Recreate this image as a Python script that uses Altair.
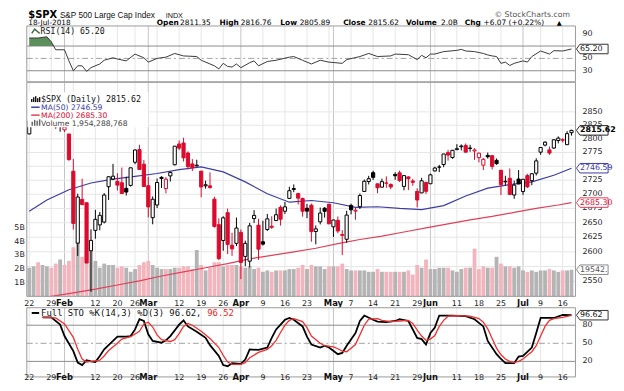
import altair as alt
import pandas as pd

# ---------------- data ----------------
opens = [2809.16, 2835.05, 2845.42, 2846.24, 2847.48, 2867.23, 2832.74, 2832.41, 2816.45, 2808.92,
         2741.06, 2614.78, 2690.95, 2685.01, 2601.78, 2636.75, 2646.27, 2651.21, 2713.46, 2727.14,
         2722.99, 2720.53, 2710.42, 2715.80, 2757.37, 2780.45, 2753.78, 2715.22, 2658.89, 2681.06,
         2730.18, 2710.18, 2732.75, 2752.91, 2790.54, 2792.31, 2774.06, 2754.27, 2750.57, 2741.38,
         2715.05, 2714.99, 2691.36, 2646.71, 2619.35, 2667.57, 2611.30, 2614.41, 2633.45, 2592.17,
         2584.04, 2657.36, 2645.82, 2617.18, 2638.41, 2643.89, 2653.83, 2676.90, 2670.10, 2692.74,
         2710.11, 2701.16, 2692.56, 2675.40, 2680.80, 2634.92, 2651.65, 2675.47, 2682.51, 2642.96,
         2654.24, 2628.08, 2621.45, 2680.34, 2670.26, 2678.12, 2705.02, 2722.70, 2738.47, 2718.59,
         2712.62, 2719.71, 2717.35, 2735.39, 2738.34, 2713.98, 2730.94, 2723.60, 2705.11, 2702.43,
         2720.98, 2718.70, 2741.67, 2748.46, 2753.25, 2774.84, 2765.84, 2780.18, 2785.60, 2787.94,
         2783.21, 2777.78, 2765.79, 2752.01, 2769.73, 2769.28, 2760.79, 2742.94, 2722.12, 2728.45,
         2698.69, 2727.13, 2704.95, 2733.27, 2724.19, 2737.68, 2775.62, 2788.56, 2779.82, 2783.14,
         2796.93, 2797.36, 2789.34, 2811.35]
highs = [2833.03, 2842.24, 2852.97, 2848.56, 2872.87, 2870.62, 2837.75, 2839.26, 2835.96, 2808.92,
         2763.39, 2701.04, 2727.67, 2685.27, 2638.67, 2672.61, 2668.84, 2702.10, 2731.51, 2754.42,
         2737.60, 2747.75, 2731.26, 2747.76, 2780.64, 2789.15, 2761.52, 2730.89, 2696.25, 2728.09,
         2732.08, 2730.60, 2740.45, 2786.57, 2796.98, 2801.90, 2777.11, 2763.03, 2761.85, 2741.38,
         2724.22, 2739.14, 2695.68, 2657.67, 2661.36, 2674.78, 2632.65, 2659.07, 2638.30, 2619.14,
         2649.86, 2672.08, 2656.88, 2653.55, 2665.45, 2661.43, 2674.72, 2680.26, 2686.49, 2713.34,
         2717.49, 2702.84, 2693.94, 2682.86, 2683.55, 2645.30, 2676.48, 2677.35, 2682.87, 2655.27,
         2660.87, 2637.14, 2670.93, 2683.35, 2676.34, 2701.27, 2726.11, 2732.86, 2742.10, 2718.59,
         2727.76, 2731.96, 2719.50, 2739.19, 2742.24, 2733.33, 2731.97, 2727.36, 2710.67, 2729.34,
         2722.50, 2736.93, 2749.16, 2752.61, 2772.39, 2779.90, 2779.39, 2790.21, 2789.80, 2791.47,
         2789.06, 2782.81, 2774.99, 2765.05, 2774.86, 2769.28, 2764.17, 2742.94, 2732.91, 2746.09,
         2724.34, 2743.26, 2727.26, 2736.58, 2737.83, 2764.41, 2784.65, 2795.58, 2785.91, 2799.22,
         2804.53, 2801.19, 2814.19, 2816.76]
lows = [2808.12, 2830.59, 2824.81, 2830.94, 2846.18, 2851.48, 2818.27, 2813.04, 2812.70, 2759.97,
        2638.17, 2593.07, 2681.33, 2580.56, 2532.69, 2622.45, 2637.08, 2648.87, 2689.82, 2725.11,
        2706.76, 2701.29, 2697.77, 2713.74, 2753.78, 2744.22, 2713.54, 2659.65, 2647.32, 2675.75,
        2711.26, 2701.74, 2722.65, 2751.54, 2779.26, 2758.68, 2744.38, 2741.47, 2749.97, 2694.59,
        2710.05, 2709.79, 2641.59, 2585.89, 2601.81, 2596.12, 2593.06, 2609.72, 2553.80, 2575.49,
        2573.61, 2649.58, 2586.27, 2610.79, 2635.78, 2639.25, 2653.83, 2645.05, 2665.16, 2692.05,
        2703.63, 2681.90, 2660.61, 2657.99, 2617.32, 2612.67, 2647.16, 2659.01, 2648.04, 2625.41,
        2631.70, 2594.62, 2615.32, 2664.70, 2655.20, 2674.14, 2704.54, 2717.45, 2725.47, 2701.91,
        2712.17, 2711.36, 2709.18, 2725.70, 2721.88, 2707.10, 2707.38, 2714.99, 2676.81, 2702.43,
        2700.68, 2718.70, 2740.54, 2739.51, 2748.46, 2760.16, 2763.59, 2780.17, 2778.78, 2774.65,
        2776.52, 2761.73, 2757.12, 2743.19, 2763.91, 2744.39, 2752.68, 2698.67, 2715.60, 2699.38,
        2691.99, 2718.03, 2698.95, 2711.16, 2716.02, 2733.52, 2770.73, 2786.24, 2770.77, 2781.53,
        2791.69, 2793.39, 2789.24, 2805.89]
closes = [2832.97, 2839.13, 2837.54, 2839.25, 2872.87, 2853.53, 2822.43, 2823.81, 2821.98, 2762.13,
          2648.94, 2695.14, 2681.66, 2581.00, 2619.55, 2656.00, 2662.94, 2698.63, 2731.20, 2732.22,
          2716.26, 2701.33, 2703.96, 2747.30, 2779.60, 2744.28, 2713.83, 2677.67, 2691.25, 2720.94,
          2728.12, 2726.80, 2738.97, 2786.57, 2783.02, 2765.31, 2749.48, 2747.33, 2752.01, 2712.92,
          2716.94, 2711.93, 2643.69, 2588.26, 2658.55, 2612.62, 2605.00, 2640.87, 2581.88, 2614.45,
          2644.69, 2662.84, 2604.47, 2613.16, 2656.87, 2642.19, 2663.99, 2656.30, 2677.84, 2706.39,
          2708.64, 2693.13, 2670.14, 2670.29, 2634.56, 2639.40, 2666.94, 2669.91, 2648.05, 2654.80,
          2635.67, 2629.73, 2663.42, 2672.63, 2671.92, 2697.79, 2723.07, 2727.72, 2730.13, 2711.45,
          2722.46, 2720.13, 2712.97, 2733.01, 2724.44, 2733.29, 2727.76, 2721.33, 2689.86, 2724.01,
          2705.27, 2734.62, 2746.87, 2748.80, 2772.35, 2770.37, 2779.03, 2782.00, 2786.85, 2775.63,
          2782.49, 2779.66, 2773.75, 2762.59, 2767.32, 2749.76, 2754.88, 2717.07, 2723.06, 2699.63,
          2716.31, 2718.37, 2726.71, 2713.22, 2736.61, 2759.82, 2784.17, 2793.84, 2774.02, 2798.29,
          2801.31, 2798.43, 2809.55, 2815.62]
volumes = [2.1, 2.2, 2.5, 2.3, 2.2, 2.1, 2.4, 2.7, 2.3, 2.6,
           3.6, 4.0, 2.9, 3.2, 3.6, 2.6, 2.1, 2.4, 2.3, 2.3,
           2.1, 2.2, 2.1, 1.8, 2.0, 2.3, 2.5, 2.6, 2.3, 2.1,
           2.0, 2.0, 2.0, 2.1, 2.1, 2.2, 2.2, 2.0, 3.4, 2.3,
           1.9, 2.1, 2.5, 2.5, 2.2, 2.3, 2.3, 2.3, 2.2, 2.1,
           2.2, 2.0, 2.1, 1.8, 1.9, 1.8, 1.9, 1.9, 1.9, 2.0,
           2.0, 2.1, 2.3, 2.0, 2.3, 2.2, 2.2, 2.0, 2.2, 2.2,
           2.2, 2.4, 2.0, 1.9, 1.9, 1.9, 1.9, 1.8, 1.8, 2.0,
           1.8, 1.8, 1.8, 1.8, 1.8, 1.8, 1.9, 1.6, 2.3, 2.1,
           2.7, 2.0, 2.0, 2.1, 2.1, 2.1, 1.9, 1.8, 2.0, 2.1,
           2.1, 3.5, 2.0, 2.2, 2.1, 2.1, 2.9, 2.4, 2.2, 2.2,
           2.1, 2.2, 1.9, 1.8, 1.9, 1.8, 1.9, 1.9, 2.0, 1.9,
           1.8, 1.9, 1.9, 1.95]
first_prev_close = 2810.30

ma50_i = [0, 4, 9, 14, 19, 24, 29, 34, 39, 44, 49, 54, 59, 64, 69, 74, 79, 84, 89, 94, 99, 104, 109, 114, 119, 123]
ma50_v = [2670, 2690, 2708, 2720, 2727, 2732, 2737, 2744, 2749, 2740, 2722, 2701, 2686, 2689, 2685, 2677,
          2678, 2675, 2673, 2680, 2697, 2711, 2717, 2722, 2734, 2746.59]
ma200_i = [0, 5, 10, 15, 20, 25, 30, 35, 40, 45, 50, 55, 60, 65, 70, 75, 80, 85, 90, 95, 100, 105, 110, 115, 120, 123]
ma200_v = [2518, 2525, 2531, 2537, 2544, 2551, 2559, 2566, 2573, 2580, 2588, 2594, 2600, 2606, 2614, 2621,
           2627, 2634, 2641, 2648, 2655, 2661, 2668, 2675, 2681, 2685.30]

rsi_i = [0, 2, 4, 5, 6, 8, 9, 10, 11, 12, 13, 14, 16, 17, 19, 20, 22, 24, 26, 27, 29, 31, 33, 35, 38,
         39, 42, 43, 44, 45, 46, 47, 48, 50, 51, 52, 54, 56, 59, 60, 62, 64, 66, 68, 71, 72, 75, 77, 79,
         82, 83, 86, 88, 89, 90, 91, 92, 94, 97, 98, 99, 101, 103, 104, 105, 106, 107, 108, 109, 110,
         111, 112, 113, 114, 116, 118, 119, 121, 123]
rsi_v = [83, 83, 85, 77, 64, 64, 46, 30, 38, 38, 29, 35, 41, 47, 51, 49, 46, 57, 51, 44, 50, 52, 58, 54, 53,
         47, 38, 33, 42, 37, 36, 41, 35, 43, 46, 38, 45, 47, 52, 53, 47, 41, 47, 44, 42, 48, 53, 58, 53,
         54, 57, 56, 48, 55, 51, 57, 57, 61, 63, 64.6, 62, 61, 58, 55.6, 54, 53, 42, 44, 38.5, 42,
         44, 46, 44, 53, 62, 57, 62.5, 62, 65.2]
rsi_hi_i = [0, 2, 4, 5, 5.55]
rsi_hi_v = [83, 83, 85, 77, 70]

stok_i = [3, 5, 7, 8, 10, 11, 12, 13, 14, 15, 16, 17, 19, 20, 22, 23, 24, 25, 26, 27, 28, 30, 31, 32, 34,
          35, 36, 38, 40, 41, 43, 44, 45, 46, 48, 49, 50, 52, 54, 55, 56, 58, 59, 60, 62, 63, 64, 66, 67,
          68, 70, 71, 72, 74, 75, 76, 78, 79, 81, 83, 84, 86, 88, 89, 90, 91, 92, 93, 94, 96, 99, 101,
          103, 104, 106, 107, 108, 110, 111, 112, 114, 115, 116, 119, 121, 123]
stok_v = [93, 93, 81, 62, 37, 18, 14, 22, 20, 19, 29, 40, 54, 61, 61, 62, 73, 90, 87, 65, 54, 51, 55, 62, 81,
          88, 78, 69, 59, 47, 29, 14, 12, 17, 16, 23, 40, 39, 43, 59, 73, 89, 92, 89, 78, 61, 48, 43, 46,
          43, 32, 34, 46, 67, 87, 96, 89, 86, 85, 87, 90, 87, 59, 57, 48, 67, 76, 96, 96, 96, 95, 90,
          78, 54, 32, 24, 17, 17, 28, 29, 43, 67, 92, 92, 97, 96.62]
stod_i = [3, 6, 8, 10, 11, 12, 13, 14, 15, 16, 17, 18, 20, 21, 23, 25, 26, 27, 28, 29, 30, 32, 33, 34, 35,
          36, 37, 39, 41, 43, 44, 45, 46, 48, 49, 50, 52, 54, 55, 56, 57, 58, 59, 60, 62, 63, 64, 66, 67,
          69, 70, 71, 72, 74, 75, 76, 77, 79, 80, 82, 84, 86, 87, 88, 89, 90, 91, 92, 93, 94, 95, 97,
          100, 102, 103, 104, 105, 106, 107, 108, 109, 110, 111, 112, 113, 114, 115, 116, 117, 118, 119,
          121, 123]
stod_v = [93, 92, 82, 60, 40, 24, 19, 20, 21, 22, 29, 38, 50, 57, 61, 70, 82, 85, 77, 64, 56, 53, 56, 66, 78,
          83, 80, 70, 58, 43, 30, 19, 15, 15, 18, 26, 35, 40, 46, 55, 68, 80, 88, 91, 86, 76, 62, 50, 46,
          44, 41, 37, 36, 48, 64, 80, 90, 91, 88, 86, 87, 88, 83, 72, 62, 55, 57, 63, 78, 88, 95, 96,
          95, 91, 85, 74, 58, 42, 31, 24, 20, 18, 20, 24, 30, 36, 46, 62, 78, 88, 91,
          93, 96.52]

grid_i = [0, 5, 8, 10, 15, 20, 24, 27, 29, 34, 39, 44, 48, 53, 58, 63, 68, 69, 73, 78, 83, 88, 91, 92,
          97, 102, 107, 112, 116, 121]
month_i = [8, 27, 48, 69, 91, 112]
label_i = [0, 5, 8, 15, 20, 24, 27, 34, 39, 44, 48, 53, 58, 63, 69, 73, 78, 83, 88, 91, 97, 102, 107, 112, 116, 121]
label_t = ['22', '29', 'Feb', '12', '20', '26', 'Mar', '12', '19', '26', 'Apr', '9', '16', '23', 'May', '7',
           '14', '21', '29', 'Jun', '11', '18', '25', 'Jul', '9', '16']

price_grid = [2550, 2575, 2600, 2625, 2650, 2675, 2700, 2725, 2750, 2775, 2800, 2825, 2850]
price_labels = [2550, 2600, 2625, 2650, 2675, 2700, 2725, 2775, 2800, 2825, 2850]
vol_labels = [1, 2, 3, 4, 5]
rsi_labels = [90, 50, 30]
sto_labels = [80, 50, 20]

# ---------------- geometry / style ----------------
W = 555.0
H_RSI = 56.5
H_PRICE = 216.5
GAP = 11.0
H_STO = GAP + 70.0
X_DOM = [-0.56, 123.9]
FONT = 'DejaVu Sans'
MONO = 'DejaVu Sans Mono'
RED = '#dc0a2d'
BLUE = '#3c3ca8'
MA200C = '#e0405a'
VOL_UP = '#b4b4b4'
VOL_DN = '#f2b4bd'
GRID_W = '#e6e6e6'
GRID_M = '#c4c4c4'
LEVEL = '#8c8c8c'
TAGX = 572.0
TAGSIZE = 1024
TAGTEXT = TAGX - 12.5
TAGPATH = 'M-1,0L-0.78,-0.3L1,-0.3L1,0.3L-0.78,0.3Z'
LABX = W + 7

xsc = alt.Scale(domain=X_DOM, nice=False, zero=False)
psc = alt.Scale(type='log', domain=[2525.1, 2905.8], nice=False, zero=False)
vsc = alt.Scale(domain=[0, 15.69], nice=False, zero=False)
rsc = alt.Scale(domain=[12.1, 102.5], nice=False, zero=False)
ssc = alt.Scale(domain=[-5.74, 127.05], nice=False, zero=False)

ONE = pd.DataFrame({'z': [0]})


def X(f):
    return alt.X(f, type='quantitative', scale=xsc, axis=None)


def T(x, y, s, size=8, weight='normal', color='#000', font=FONT, align='left', baseline='alphabetic'):
    return alt.Chart(ONE).mark_text(text=s, fontSize=size, fontWeight=weight, color=color, font=font,
                                    align=align, baseline=baseline).encode(x=alt.value(x), y=alt.value(y))


def hrule(x1, x2, y, color, width=1.5):
    return alt.Chart(ONE).mark_rule(color=color, strokeWidth=width).encode(
        x=alt.value(x1), x2=alt.value(x2), y=alt.value(y))


def border(y1, y2):
    return alt.Chart(ONE).mark_rect(fillOpacity=0, stroke='#9a9a9a', strokeWidth=1).encode(
        x=alt.value(0), x2=alt.value(W), y=alt.value(y1), y2=alt.value(y2))


def vgrid(y1, y2):
    g = pd.DataFrame({'i': grid_i, 'm': [i in month_i for i in grid_i]})
    return alt.Chart(g).mark_rule(strokeWidth=1).encode(
        x=X('i'), y=alt.value(y1), y2=alt.value(y2),
        color=alt.condition('datum.m', alt.value(GRID_M), alt.value(GRID_W)))


def levels(vals, scale, color, dash=None, width=1):
    kw = dict(color=color, strokeWidth=width)
    if dash:
        kw['strokeDash'] = dash
    return alt.Chart(pd.DataFrame({'lv': vals})).mark_rule(**kw).encode(
        y=alt.Y('lv:Q', scale=scale, axis=None), x=alt.value(0), x2=alt.value(W))


def ylabels(vals, scale, x, align='left', fmt=None):
    txt = [(fmt(v) if fmt else str(v)) for v in vals]
    return alt.Chart(pd.DataFrame({'lv': vals, 't': txt})).mark_text(
        fontSize=8, font=FONT, color='#222', align=align, baseline='middle').encode(
        y=alt.Y('lv:Q', scale=scale, axis=None), x=alt.value(x), text='t:N')


def tag(value, scale, text, color, tcolor, weight='normal', limit=0):
    d = pd.DataFrame({'y': [value]})
    box = alt.Chart(d).mark_point(shape=TAGPATH, size=TAGSIZE, filled=True, fill='white', stroke=color,
                                  strokeWidth=1, opacity=1).encode(
        x=alt.value(TAGX), y=alt.Y('y:Q', scale=scale, axis=None))
    kw = dict(text=text, fontSize=8, font=FONT, color=tcolor, align='left', baseline='middle',
              fontWeight=weight)
    if limit:
        kw['limit'] = limit
        kw['ellipsis'] = '.'
    lab = alt.Chart(d).mark_text(**kw).encode(x=alt.value(TAGTEXT), y=alt.Y('y:Q', scale=scale, axis=None))
    return box + lab


def date_labels(y):
    d = pd.DataFrame({'i': label_i, 't': label_t, 'b': [i in month_i for i in label_i]})
    base = alt.Chart(d)
    norm = base.transform_filter('!datum.b').mark_text(fontSize=8, font=FONT, color='#222',
                                                        baseline='alphabetic').encode(
        x=X('i'), y=alt.value(y), text='t:N')
    bold = base.transform_filter('datum.b').mark_text(fontSize=8.5, font=FONT, fontWeight='bold',
                                                       color='#111', baseline='alphabetic').encode(
        x=X('i'), y=alt.value(y), text='t:N')
    return norm + bold


# ---------------- candle table ----------------
n = len(closes)
prev = [first_prev_close] + closes[:-1]
rows = []
for i in range(n):
    up = closes[i] >= prev[i]
    col = '#000000' if up else RED
    rows.append(dict(i=i, o=opens[i], h=highs[i], l=lows[i], c=closes[i], v=volumes[i],
                     col=col, fill=('#ffffff' if closes[i] > opens[i] else col),
                     vcol=(VOL_UP if up else VOL_DN),
                     x1=i - 0.36, x2=i + 0.36, b1=i - 0.43, b2=i + 0.43))
df = pd.DataFrame(rows)

# ---------------- RSI panel ----------------
rsi_df = pd.DataFrame({'i': rsi_i, 'v': rsi_v})
rsi_hi = pd.DataFrame({'i': rsi_hi_i, 'v': rsi_hi_v})

rsi_layers = [
    vgrid(0, H_RSI),
    levels([70, 30], rsc, LEVEL),
    levels([50], rsc, '#a0a0a0', dash=[6, 3, 2, 3]),
    alt.Chart(rsi_hi).mark_area(color='#5c8f5c', opacity=1).encode(
        x=X('i'), y=alt.Y('v:Q', scale=rsc, axis=None), y2=alt.datum(70)),
    alt.Chart(rsi_df).mark_line(color='#3a3a3a', strokeWidth=1).encode(
        x=X('i'), y=alt.Y('v:Q', scale=rsc, axis=None)),
    border(0, H_RSI),
    ylabels(rsi_labels, rsc, LABX),
    tag(65.20, rsc, '65.20', '#333', '#111'),
    # legend
    alt.Chart(pd.DataFrame({'x': [5, 8, 10.5, 13], 'y': [7.5, 3.2, 5.4, 7.5]})).mark_line(
        color='#3d6e3d', strokeWidth=1.5).encode(x=alt.X('x:Q', scale=None), y=alt.Y('y:Q', scale=None)),
    T(14, 7.8, 'RSI(14) 65.20', size=8.3, font=MONO, color='#111'),
    # header (two lines above the panels)
    T(1.5, -8.0, '$SPX', size=10, weight='bold'),
    T(33.5, -8.2, 'S&P 500 Large Cap Index', size=8.3, font='Liberation Sans', color='#111'),
    T(140.5, -8.2, 'INDX', size=7.3, font='Liberation Sans', color='#111'),
    T(549.5, -8.6, '\u00a9 StockCharts.com', size=7.8, color='#555', align='right'),
    T(1.5, -0.8, '18-Jul-2018', size=7.4),
    T(131.5, -0.8, 'Open', size=7.5, weight='bold'), T(155, -0.8, '2811.35', size=7.5),
    T(195, -0.8, 'High', size=7.5, weight='bold'), T(216.5, -0.8, '2816.76', size=7.5),
    T(256.5, -0.8, 'Low', size=7.5, weight='bold'), T(276, -0.8, '2805.89', size=7.5),
    T(320, -0.8, 'Close', size=7.5, weight='bold'), T(345.5, -0.8, '2815.62', size=7.5),
    T(383.5, -0.8, 'Volume', size=7.5, weight='bold'), T(419, -0.8, '2.0B', size=7.5),
    T(443, -0.8, 'Chg', size=7.5, weight='bold'), T(462, -0.8, '+6.07 (+0.22%)', size=7.5),
    T(536, -0.8, '\u25b2', size=6.5),
    # invisible anchor fixing the top-left corner of the page
    alt.Chart(ONE).mark_rule(opacity=0).encode(x=alt.value(-18.5), x2=alt.value(-18.5),
                                               y=alt.value(-16), y2=alt.value(-12)),
]
rsi_chart = alt.layer(*rsi_layers).properties(width=W, height=H_RSI)

# ---------------- price panel ----------------
vol_layer = alt.layer(
    alt.Chart(df).mark_rect().encode(
        x=X('b1'), x2='b2', y=alt.Y('v:Q', scale=vsc, axis=None),
        y2=alt.value(H_PRICE), color=alt.Color('vcol:N', scale=None)),
    ylabels(vol_labels, vsc, -2, align='right', fmt=lambda v: '%dB' % v),
    tag(1.954288768, vsc, '1954288768', '#888', '#555', limit=30),
)

pd_ma50 = pd.DataFrame({'i': ma50_i, 'p': ma50_v})
pd_ma200 = pd.DataFrame({'i': ma200_i, 'p': ma200_v})

price_layer = alt.layer(
    alt.Chart(pd_ma200).mark_line(color=MA200C, strokeWidth=1.2, clip=True).encode(
        x=X('i'), y=alt.Y('p:Q', scale=psc, axis=None)),
    alt.Chart(pd_ma50).mark_line(color=BLUE, strokeWidth=1.2, clip=True).encode(
        x=X('i'), y=alt.Y('p:Q', scale=psc, axis=None)),
    alt.Chart(df).mark_rule(strokeWidth=1).encode(
        x=X('i'), y=alt.Y('l:Q', scale=psc, axis=None), y2='h:Q', color=alt.Color('col:N', scale=None)),
    alt.Chart(df).mark_rect(strokeWidth=1).encode(
        x=X('x1'), x2='x2', y=alt.Y('o:Q', scale=psc, axis=None), y2='c:Q',
        fill=alt.Fill('fill:N', scale=None), stroke=alt.Stroke('col:N', scale=None)),
    ylabels(price_labels, psc, LABX),
    # legend box
    alt.Chart(ONE).mark_rect(color='white').encode(x=alt.value(0.5), x2=alt.value(123),
                                                   y=alt.value(10), y2=alt.value(45.5)),
    alt.Chart(pd.DataFrame({'x': [5, 7, 9, 11, 13], 'y1': [17, 15, 14, 16, 15], 'y2': [20, 20, 20, 20, 20]})).mark_rule(
        color='#111', strokeWidth=1.4).encode(x=alt.X('x:Q', scale=None), y=alt.Y('y1:Q', scale=None),
                                              y2=alt.Y2('y2:Q')),
    T(14.5, 19.6, '$SPX (Daily) 2815.62', size=8.4, font=MONO, color='#111'),
    hrule(4.5, 13, 25.2, BLUE), T(14.5, 28.2, 'MA(50) 2746.59', size=7.7, font=FONT, color=BLUE),
    hrule(4.5, 13, 33.2, MA200C), T(14.5, 36.2, 'MA(200) 2685.30', size=7.7, font=FONT, color=RED),
    alt.Chart(pd.DataFrame({'x': [5.5, 8, 10.5, 13], 'y1': [40, 38, 39, 37.5], 'y2': [44, 44, 44, 44]})).mark_rule(
        color='#666', strokeWidth=1.5).encode(x=alt.X('x:Q', scale=None), y=alt.Y('y1:Q', scale=None),
                                              y2=alt.Y2('y2:Q')),
    T(14.5, 44.2, 'Volume 1,954,288,768', size=7.7, font=FONT, color='#444'),
    tag(2815.62, psc, '2815.62', '#222', '#000', weight='bold'),
    tag(2746.59, psc, '2746.59', BLUE, BLUE),
    tag(2685.30, psc, '2685.30', MA200C, RED),
)

price_chart = alt.layer(
    vgrid(0, H_PRICE),
    levels(price_grid, psc, GRID_W),
    vol_layer,
    price_layer,
).resolve_scale(y='independent').properties(width=W, height=H_PRICE)
price_chart = alt.layer(price_chart, border(0, H_PRICE)).properties(width=W, height=H_PRICE)

# ---------------- STO panel ----------------
k_df = pd.DataFrame({'i': stok_i, 'v': stok_v})
d_df = pd.DataFrame({'i': stod_i, 'v': stod_v})
sto_layers = [
    date_labels(8.8),
    vgrid(GAP, H_STO),
    levels([80, 20], ssc, LEVEL),
    levels([50], ssc, '#a0a0a0', dash=[6, 3, 2, 3]),
    alt.Chart(k_df).mark_line(color='#000', strokeWidth=1.8).encode(
        x=X('i'), y=alt.Y('v:Q', scale=ssc, axis=None)),
    alt.Chart(d_df).mark_line(color='#f03030', strokeWidth=1.3).encode(
        x=X('i'), y=alt.Y('v:Q', scale=ssc, axis=None)),
    border(GAP, H_STO),
    ylabels(sto_labels, ssc, LABX),
    tag(96.62, ssc, '96.62', '#333', '#111'),
    hrule(5, 12.5, 16.3, '#000', 2),
    T(14.5, 19.3, 'Full STO %K(14,3) %D(3) 96.62,', size=9, font=MONO, color='#111'),
    T(182.5, 19.3, '96.52', size=9, font=MONO, color='#f02020'),
    date_labels(H_STO + 3.3),
]
sto_chart = alt.layer(*sto_layers).properties(width=W, height=H_STO)

chart = alt.vconcat(rsi_chart, price_chart, sto_chart, spacing=0, bounds='flush').properties(
    padding=0, background='white'
).configure_view(stroke=None)

chart.save("out.html", embed_options={"renderer": "svg", "actions": False})
